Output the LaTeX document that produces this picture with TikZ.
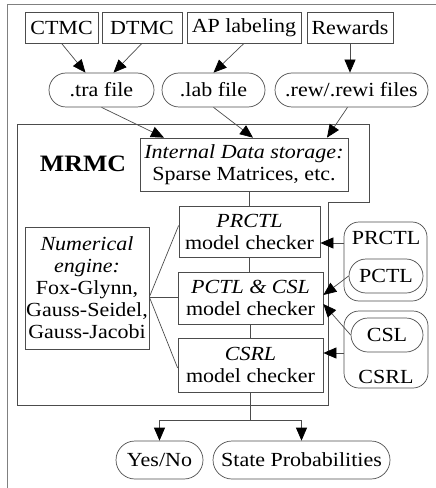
\documentclass[tikz,border=0pt]{standalone}
\usepackage{fontspec}
\setmainfont{Liberation Serif}[FakeStretch=1.1]
\usepackage{tikz}
\usetikzlibrary{arrows.meta,positioning}

\begin{document}
\begin{tikzpicture}[x=1bp,y=-1bp,
  box/.style={draw=black!70, line width=0.7bp, rectangle, inner sep=0pt, align=center,
    font=\fontsize{20bp}{22bp}\selectfont},
  srcbox/.style={box, minimum height=31bp},
  file/.style={box, rounded corners=17bp, minimum height=34bp},
  outfile/.style={box, rounded corners=19bp, minimum height=38bp},
  grp/.style={draw=black!70, line width=0.7bp, rounded corners=15bp, inner sep=0pt},
  plain/.style={inner sep=0pt, font=\fontsize{20bp}{22bp}\selectfont},
  link/.style={draw=black!70, line width=0.7bp},
  arr/.style={link, -{Triangle[length=13bp,width=11bp,color=black]}}]
\useasboundingbox (0,0) rectangle (436,488);
\draw[black!50, line width=0.8bp] (7,488) -- (7,4) -- (436,4);

% input models
\node[srcbox, minimum width=73bp] (ctmc) at (61.5,27.5) {CTMC};
\node[srcbox, minimum width=80bp] (dtmc) at (142,27.5) {DTMC};
\node[srcbox, minimum width=114bp] (aplab) at (244,27.5) {AP labeling};
\node[srcbox, minimum width=86bp] (rewards) at (350,27.5) {Rewards};

\node[file, minimum width=105bp] (tra) at (101.5,90) {.tra file};
\node[file, minimum width=103bp] (lab) at (213.5,90) {.lab file};
\node[file, minimum width=153bp] (rewf) at (351.5,90) {.rew/.rewi files};

\draw[arr] (ctmc.south) -- ([xshift=-16bp]tra.north);
\draw[arr] (dtmc.south) -- ([xshift=12bp]tra.north);
\draw[arr] (aplab.south) -- (lab.north);
\draw[arr] (rewards.south) -- (rewards.south |- rewf.north);

% the tool
\draw[link] (17,124) -- (369,124) -- (369,202) -- (328,202) -- (328,405) -- (17,405) -- cycle;
\node[inner sep=0pt, font=\bfseries\fontsize{23.5bp}{26bp}\selectfont] (mrmc) at (83,164) {MRMC};

\node[box, minimum width=208bp, minimum height=53bp] (storage) at (244,164.5)
  {\textit{Internal Data storage:}\\Sparse Matrices, etc.};
\node[box, minimum width=141bp, minimum height=51bp] (prctl) at (249.5,231.5)
  {\textit{PRCTL}\\model checker};
\node[box, minimum width=145bp, minimum height=52bp] (pcsl) at (250.5,298)
  {\textit{PCTL \& CSL}\\model checker};
\node[box, minimum width=145bp, minimum height=54bp] (csrl) at (250.5,365)
  {\textit{CSRL}\\model checker};
\node[box, minimum width=124bp, minimum height=122bp] (numeng) at (87,288)
  {\textit{Numerical}\\\textit{engine:}\\Fox-Glynn,\\Gauss-Seidel,\\Gauss-Jacobi};

\draw[arr] (tra.south) -- ([xshift=-80bp]storage.north);
\draw[arr] (lab.south) -- ([xshift=9bp]storage.north);
\draw[arr] ([xshift=-4bp]rewf.south) -- ([xshift=83bp]storage.north);

\draw[link] (prctl.north |- storage.south) -- (prctl.north);
\draw[link] (prctl.south) -- (prctl.south |- pcsl.north);
\draw[link] (pcsl.south) -- (csrl.north);

\draw[link] ([yshift=-9bp]numeng.east) -- ([yshift=6bp]prctl.west);
\draw[link] ([yshift=-9bp]numeng.east) -- ([yshift=-9bp]numeng.east -| pcsl.west);
\draw[link] ([yshift=-9bp]numeng.east) -- ([yshift=-3bp]csrl.west);

% logics
\node[grp, minimum width=83bp, minimum height=79bp] (gprctl) at (385.5,261.5) {};
\node[plain] (tprctl) at (386,238) {PRCTL};
\node[file, minimum width=74bp] (pctl) at (386,276) {PCTL};
\node[grp, minimum width=84bp, minimum height=77bp] (gcsrl) at (386,349.5) {};
\node[file, minimum width=72bp] (csl) at (387,335) {CSL};
\node[plain] (tcsrl) at (386,377) {CSRL};

\draw[arr] ([yshift=18.5bp]gprctl.west) -- ([yshift=18.5bp]gprctl.west -| prctl.east);
\draw[arr] (pctl.west) -- ([yshift=3bp]pcsl.east);
\draw[arr] (csl.west) -- ([yshift=-6bp]pcsl.east);
\draw[arr] ([yshift=-3.5bp]gcsrl.west) -- ([yshift=-3.5bp]gcsrl.west -| csrl.east);

% results
\node[outfile, minimum width=87bp] (yesno) at (159.5,460) {Yes/No};
\node[outfile, minimum width=177bp] (stprob) at (301.5,460) {State Probabilities};
\coordinate (split) at (250.5,420);
\draw[link] (csrl.south) -- (split);
\draw[arr] (split) -| (yesno.north);
\draw[arr] (split) -| (stprob.north);
\end{tikzpicture}
\end{document}
